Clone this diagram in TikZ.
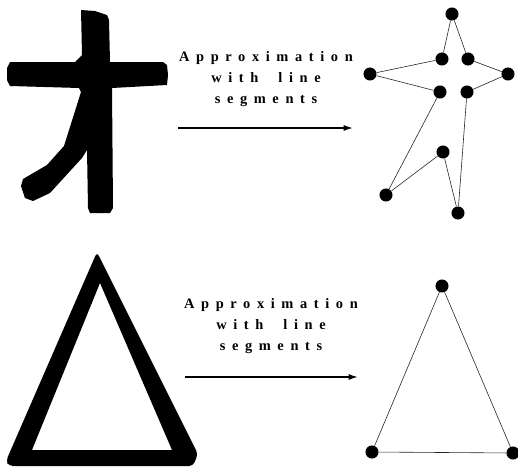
\documentclass[tikz,border=0pt]{standalone}
\usepackage{fontspec}
\setmainfont{Liberation Serif}
\usepackage{tikz}
\usetikzlibrary{arrows.meta}

\begin{document}
\begin{tikzpicture}[
    x=0.75pt, y=-0.75pt,
    glyph/.style={fill=black, draw=none},
    dot/.style={circle, fill=black, inner sep=0pt, minimum size=9.8pt},
    seg/.style={draw=black!85, line width=0.45pt},
    caption/.style={align=center, font=\fontsize{10.8}{15.75}\selectfont\bfseries\addfontfeature{LetterSpace=46}},
    arrow/.style={-{Latex[length=7pt, width=4.5pt]}, line width=1.1pt}
  ]
    \useasboundingbox (0,0) rectangle (518,468);
    % the character
    \fill[glyph] (81,10) -- (95,11) -- (107,15) -- (109,20) -- (110,62) -- (163,62) -- (167,65)
      -- (168,75) -- (167,85) -- (112,88) -- (113,208) -- (110,213) -- (90,213) -- (88,208)
      -- (87,150) -- (82,158) -- (50,193) -- (33,201) -- (25,198) -- (21,186) -- (23,179)
      -- (47,165) -- (64,146) -- (81,92) -- (79,88) -- (10,86) -- (7,80) -- (7,68) -- (10,62)
      -- (75,62) -- (82,55) -- cycle;
    % the triangle
    \fill[glyph, even odd rule] [rounded corners=3pt] (6,461) -- (97,252) -- (198,454) -- (193,466) -- (9,466) -- cycle
      [sharp corners] (100,283) -- (172,450) -- (32,450) -- cycle;
    % captions and arrows
    \node[caption] (capTop) at (266,79) {Approximation\\with\hspace{15pt}line\\segments};
    \node[caption] (capBot) at (271,326) {Approximation\\with\hspace{15pt}line\\segments};
    \coordinate (arTopA) at (178,128);
    \coordinate (arTopB) at (353,128);
    \coordinate (arBotA) at (185,377);
    \coordinate (arBotB) at (358,377);
    \draw[arrow] (arTopA) -- (arTopB);
    \draw[arrow] (arBotA) -- (arBotB);
    % segments of the character
    \node[dot] (n1) at (452,14) {};
    \node[dot] (n2) at (442,59) {};
    \node[dot] (n3) at (468,59) {};
    \node[dot] (n4) at (370,74) {};
    \node[dot] (n5) at (508,74) {};
    \node[dot] (n6) at (440,92) {};
    \node[dot] (n7) at (467,92) {};
    \node[dot] (n8) at (443,152) {};
    \node[dot] (n9) at (386,195) {};
    \node[dot] (n10) at (458,213) {};
    \draw[seg] (n1) -- (n2);
    \draw[seg] (n1) -- (n3);
    \draw[seg] (n2) -- (n4);
    \draw[seg] (n4) -- (n6);
    \draw[seg] (n3) -- (n5);
    \draw[seg] (n5) -- (n7);
    \draw[seg] (n6) -- (n9);
    \draw[seg] (n9) -- (n8);
    \draw[seg] (n8) -- (n10);
    \draw[seg] (n7) -- (n10);
    % segments of the triangle
    \node[dot] (t1) at (442,286) {};
    \node[dot] (t2) at (372,452) {};
    \node[dot] (t3) at (513,453) {};
    \draw[seg] (t1) -- (t2);
    \draw[seg] (t2) -- (t3);
    \draw[seg] (t3) -- (t1);
\end{tikzpicture}
\end{document}
